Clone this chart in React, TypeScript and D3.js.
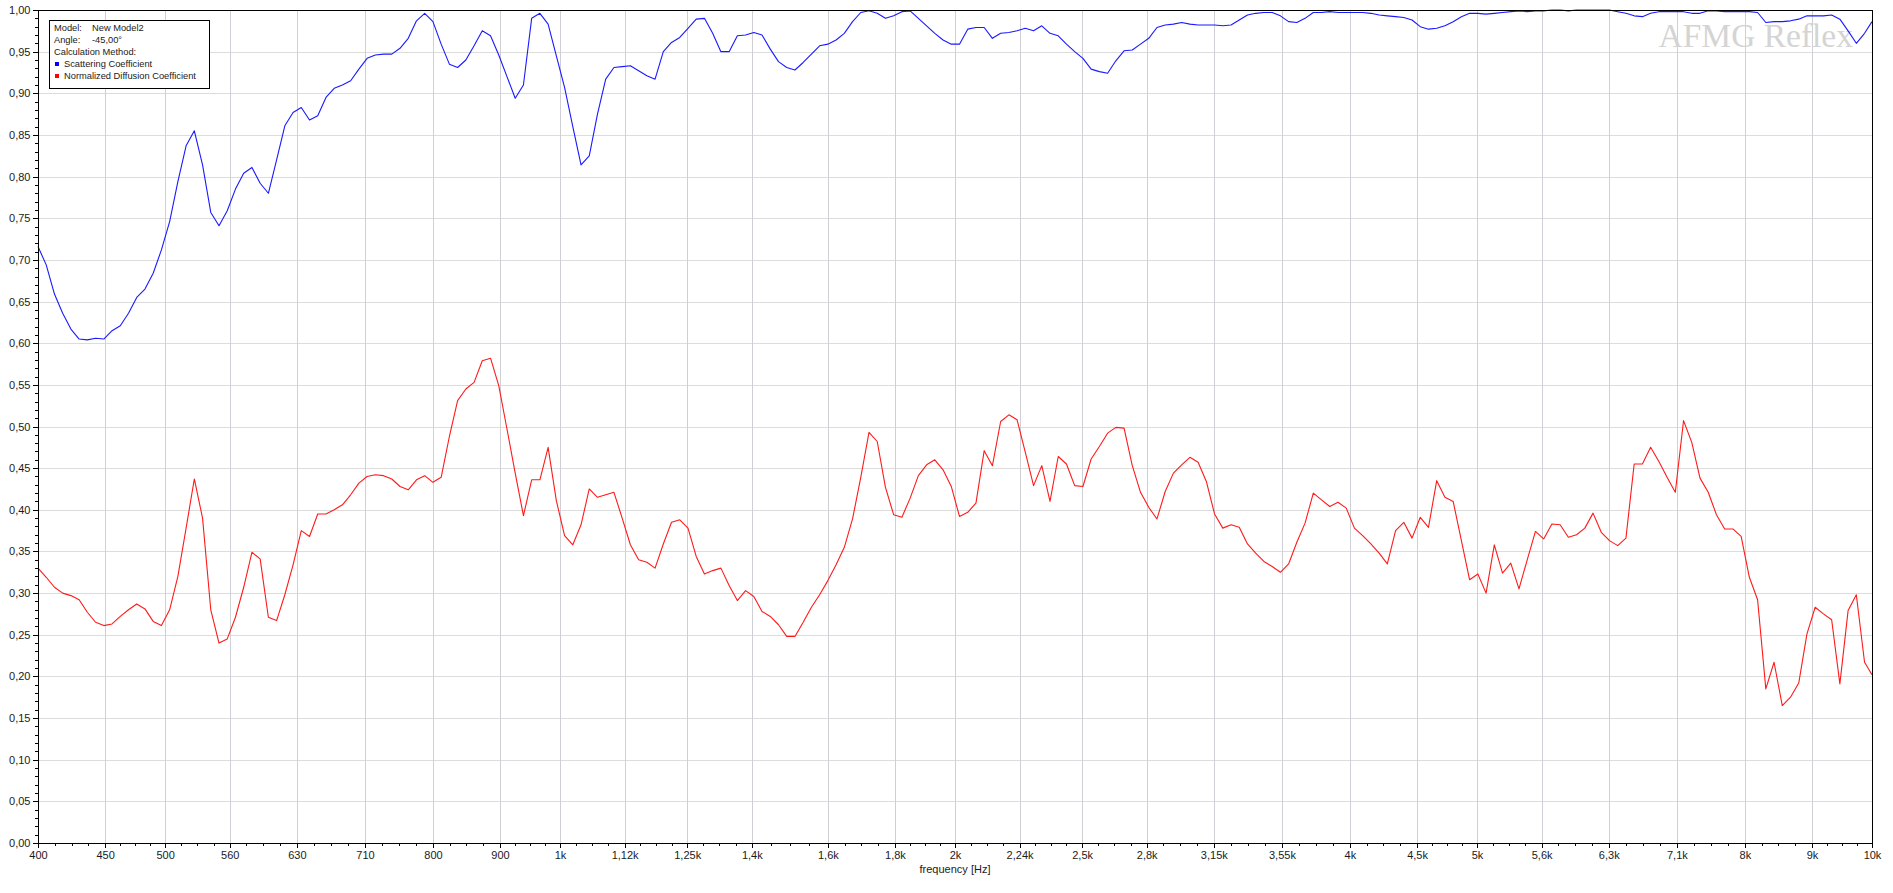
import React, { useEffect, useRef } from 'react';
import * as d3 from 'd3';

/* ---------- Data ---------- */
const freqTickValues = [
  400, 450, 500, 560, 630, 710, 800, 900, 1000, 1120, 1250, 1400, 1600, 1800, 2000,
  2240, 2500, 2800, 3150, 3550, 4000, 4500, 5000, 5600, 6300, 7100, 8000, 9000, 10000,
];
const freqTickLabels = [
  '400', '450', '500', '560', '630', '710', '800', '900', '1k', '1,12k', '1,25k', '1,4k',
  '1,6k', '1,8k', '2k', '2,24k', '2,5k', '2,8k', '3,15k', '3,55k', '4k', '4,5k', '5k',
  '5,6k', '6,3k', '7,1k', '8k', '9k', '10k',
];
const yTickValues = [
  0, 0.05, 0.1, 0.15, 0.2, 0.25, 0.3, 0.35, 0.4, 0.45, 0.5, 0.55, 0.6, 0.65, 0.7, 0.75,
  0.8, 0.85, 0.9, 0.95, 1,
];

// Scattering Coefficient
const scattering = [
  0.716, 0.694, 0.659, 0.636, 0.617, 0.605, 0.604, 0.606, 0.605, 0.615,
  0.621, 0.636, 0.655, 0.665, 0.684, 0.712, 0.746, 0.794, 0.837, 0.855,
  0.814, 0.757, 0.741, 0.759, 0.785, 0.804, 0.811, 0.792, 0.780, 0.820,
  0.861, 0.877, 0.883, 0.868, 0.873, 0.895, 0.906,
  0.910, 0.915, 0.929, 0.942, 0.946, 0.947, 0.947, 0.954, 0.966, 0.987,
  0.996, 0.986, 0.959, 0.935, 0.931, 0.940, 0.957, 0.975, 0.969, 0.946,
  0.920, 0.894, 0.910, 0.990, 0.996, 0.983, 0.945, 0.907, 0.860, 0.814,
  0.825, 0.875, 0.917, 0.931, 0.932, 0.933, 0.927,
  0.921, 0.917, 0.950, 0.961, 0.967, 0.978, 0.989, 0.990, 0.972, 0.950,
  0.950, 0.969, 0.970, 0.973, 0.970, 0.953, 0.938, 0.931, 0.928, 0.937,
  0.947, 0.957, 0.959, 0.964, 0.972, 0.986, 0.997, 0.999, 0.996, 0.990,
  0.993, 0.998, 0.999, 0.990, 0.981, 0.972, 0.964,
  0.959, 0.959, 0.977, 0.979, 0.979, 0.966, 0.972, 0.973, 0.975, 0.978,
  0.975, 0.981, 0.972, 0.969, 0.959, 0.950, 0.942, 0.929, 0.926, 0.924,
  0.939, 0.951, 0.952, 0.959, 0.966, 0.979, 0.982, 0.983, 0.985, 0.983,
  0.982, 0.982, 0.982, 0.981, 0.982, 0.988, 0.994,
  0.996, 0.997, 0.997, 0.993, 0.986, 0.985, 0.990, 0.997, 0.997, 0.998,
  0.997, 0.997, 0.997, 0.997, 0.996, 0.994, 0.993, 0.992, 0.991, 0.988,
  0.980, 0.977, 0.978, 0.981, 0.986, 0.992, 0.996, 0.996, 0.995, 0.996,
  0.997, 0.998, 0.999, 0.998, 0.999, 0.999, 1.000,
  1.000, 0.999, 1.000, 1.000, 1.000, 1.000, 1.000, 0.998, 0.996, 0.993,
  0.992, 0.996, 0.998, 0.998, 0.998, 0.998, 0.996, 0.996, 0.999, 0.999,
  0.998, 0.998, 0.998, 0.998, 0.997, 0.985, 0.986, 0.986, 0.987, 0.989,
  0.993, 0.993, 0.993, 0.994, 0.989, 0.975, 0.960, 0.972,
  0.986,
];

// Normalized Diffusion Coefficient
const diffusion = [
  0.330, 0.319, 0.307, 0.300, 0.297, 0.292, 0.277, 0.265, 0.261, 0.263,
  0.272, 0.280, 0.287, 0.281, 0.266, 0.261, 0.280, 0.320, 0.378, 0.437,
  0.390, 0.280, 0.240, 0.245, 0.271, 0.307, 0.349, 0.341, 0.271, 0.267,
  0.298, 0.334, 0.375, 0.368, 0.395, 0.395, 0.400,
  0.406, 0.418, 0.432, 0.440, 0.442, 0.441, 0.437, 0.428, 0.424, 0.436,
  0.441, 0.433, 0.439, 0.488, 0.531, 0.545, 0.553, 0.579, 0.582, 0.549,
  0.497, 0.444, 0.393, 0.436, 0.436, 0.475, 0.411, 0.369, 0.358, 0.382,
  0.425, 0.415, 0.418, 0.421, 0.390, 0.358, 0.340,
  0.337, 0.330, 0.359, 0.385, 0.388, 0.378, 0.344, 0.323, 0.327, 0.330,
  0.309, 0.291, 0.303, 0.296, 0.278, 0.272, 0.262, 0.248, 0.248, 0.265,
  0.283, 0.298, 0.315, 0.334, 0.355, 0.389, 0.439, 0.493, 0.482, 0.427,
  0.394, 0.391, 0.414, 0.441, 0.454, 0.460, 0.448,
  0.428, 0.392, 0.397, 0.408, 0.471, 0.453, 0.506, 0.514, 0.508, 0.469,
  0.429, 0.453, 0.410, 0.464, 0.455, 0.429, 0.428, 0.461, 0.476, 0.492,
  0.499, 0.498, 0.453, 0.421, 0.403, 0.389, 0.422, 0.444, 0.454, 0.463,
  0.457, 0.434, 0.395, 0.378, 0.382, 0.379, 0.359,
  0.348, 0.338, 0.332, 0.325, 0.335, 0.361, 0.384, 0.420, 0.412, 0.404,
  0.409, 0.402, 0.378, 0.369, 0.359, 0.348, 0.335, 0.375, 0.385, 0.366,
  0.391, 0.379, 0.435, 0.415, 0.410, 0.363, 0.316, 0.323, 0.300, 0.358,
  0.324, 0.336, 0.305, 0.340, 0.374, 0.365, 0.383,
  0.382, 0.367, 0.370, 0.378, 0.396, 0.373, 0.363, 0.357, 0.366, 0.455,
  0.455, 0.475, 0.458, 0.439, 0.421, 0.507, 0.481, 0.438, 0.421, 0.394,
  0.377, 0.377, 0.368, 0.319, 0.292, 0.185, 0.217, 0.165, 0.175, 0.192,
  0.251, 0.283, 0.275, 0.268, 0.191, 0.279, 0.298, 0.217,
  0.202,
];

// analysis bands: 1/48 octave steps from 400 Hz, last value at 10 kHz
const frequencies = [...d3.range(scattering.length - 1).map(k => 400 * Math.pow(2, k / 48)), 10000];

type Pt = { f: number; v: number };

const App: React.FC = () => {
  const svgRef = useRef<SVGSVGElement>(null);

  useEffect(() => {
    document.body.style.margin = '0';
    const svgEl = svgRef.current;
    if (!svgEl) return;
    const svg = d3.select(svgEl);
    svg.selectAll('*').remove();

    /* ---------- Layout ---------- */
    const W = 1893;
    const H = 893;
    const left = 38;
    const right = 1872;
    const top = 10;
    const bottom = 843;
    const font = '"Liberation Sans", Arial, sans-serif';
    const textColor = '#1a1a1a';

    const x = d3.scaleLog().domain([400, 10000]).range([left, right]);
    const y = d3.scaleLinear().domain([0, 1]).range([bottom, top]);
    const px = (v: number) => Math.round(v) + 0.5;

    svg.append('rect').attr('width', W).attr('height', H).attr('fill', '#fff');

    /* ---------- Grid ---------- */
    const grid = svg.append('g').attr('shape-rendering', 'crispEdges');
    grid
      .selectAll('line.hgrid')
      .data(yTickValues.slice(1, -1))
      .enter()
      .append('line')
      .attr('x1', left)
      .attr('x2', right)
      .attr('y1', d => px(y(d)))
      .attr('y2', d => px(y(d)))
      .attr('stroke', '#dcdcdc');
    grid
      .selectAll('line.vgrid')
      .data(freqTickValues.slice(1, -1))
      .enter()
      .append('line')
      .attr('y1', top)
      .attr('y2', bottom)
      .attr('x1', d => px(x(d)))
      .attr('x2', d => px(x(d)))
      .attr('stroke', '#cfcfd6');

    /* ---------- Watermark ---------- */
    svg
      .append('text')
      .attr('x', 1853)
      .attr('y', 47)
      .attr('text-anchor', 'end')
      .style('font-family', '"Liberation Serif", "Times New Roman", serif')
      .style('font-size', '33.5px')
      .attr('fill', '#d4d4d4')
      .text('AFMG Reflex');

    /* ---------- Curves ---------- */
    const line = d3
      .line<Pt>()
      .x(d => x(d.f))
      .y(d => y(d.v));
    const series = [
      { values: scattering, color: '#1a1aff' },
      { values: diffusion, color: '#ff1a1a' },
    ];
    series.forEach(s => {
      const pts: Pt[] = s.values.map((v, i) => ({ f: frequencies[i], v }));
      svg
        .append('path')
        .datum(pts)
        .attr('fill', 'none')
        .attr('stroke', s.color)
        .attr('stroke-width', 1.1)
        .attr('stroke-linejoin', 'round')
        .attr('d', line);
    });

    /* ---------- Frame ---------- */
    svg
      .append('rect')
      .attr('x', left + 0.5)
      .attr('y', top + 0.5)
      .attr('width', right - left)
      .attr('height', bottom - top)
      .attr('fill', 'none')
      .attr('stroke', '#000')
      .attr('shape-rendering', 'crispEdges');

    /* ---------- Y axis ---------- */
    const yAxis = d3
      .axisLeft(y)
      .tickValues(yTickValues)
      .tickSize(6)
      .tickPadding(2)
      .tickFormat(d => (d as number).toFixed(2).replace('.', ','));
    const yg = svg
      .append('g')
      .attr('transform', `translate(${left + 0.5},0)`)
      .attr('shape-rendering', 'crispEdges')
      .call(yAxis);
    yg.select('.domain').remove();
    yg.selectAll('line').attr('stroke', '#000');
    yg.selectAll('text')
      .style('font-family', font)
      .style('font-size', '11px')
      .attr('fill', textColor);

    const yMinor = d3.range(0, 101).filter(i => i % 5 !== 0).map(i => i / 100);
    svg
      .append('g')
      .attr('shape-rendering', 'crispEdges')
      .selectAll('line')
      .data(yMinor)
      .enter()
      .append('line')
      .attr('x1', left - 3)
      .attr('x2', left)
      .attr('y1', d => px(y(d)))
      .attr('y2', d => px(y(d)))
      .attr('stroke', '#000');

    /* ---------- X axis ---------- */
    const xAxis = d3
      .axisBottom(x)
      .tickValues(freqTickValues)
      .tickSize(4)
      .tickPadding(4)
      .tickFormat((_d, i) => freqTickLabels[i]);
    const xg = svg
      .append('g')
      .attr('transform', `translate(0,${bottom + 0.5})`)
      .attr('shape-rendering', 'crispEdges')
      .call(xAxis);
    xg.select('.domain').remove();
    xg.selectAll('line').attr('stroke', '#000');
    xg.selectAll('text')
      .style('font-family', font)
      .style('font-size', '11px')
      .attr('fill', textColor);

    // minor ticks at 1/24 octave between labelled 1/6 octave ticks
    const xMinor: number[] = [];
    for (let i = 0; i < freqTickValues.length - 1; i++) {
      const a = freqTickValues[i];
      const b = freqTickValues[i + 1];
      for (let j = 1; j < 4; j++) xMinor.push(a * Math.pow(b / a, j / 4));
    }
    svg
      .append('g')
      .attr('shape-rendering', 'crispEdges')
      .selectAll('line')
      .data(xMinor)
      .enter()
      .append('line')
      .attr('x1', d => px(x(d)))
      .attr('x2', d => px(x(d)))
      .attr('y1', bottom)
      .attr('y2', bottom + 3)
      .attr('stroke', '#000');

    svg
      .append('text')
      .attr('x', (left + right) / 2)
      .attr('y', 873)
      .attr('text-anchor', 'middle')
      .style('font-family', font)
      .style('font-size', '11px')
      .attr('fill', textColor)
      .text('frequency [Hz]');

    /* ---------- Legend ---------- */
    const lg = svg.append('g');
    lg.append('rect')
      .attr('x', 49.5)
      .attr('y', 20.5)
      .attr('width', 160)
      .attr('height', 68)
      .attr('fill', '#fff')
      .attr('stroke', '#000')
      .attr('shape-rendering', 'crispEdges');
    const legendFont = (sel: d3.Selection<SVGTextElement, unknown, null, undefined>) =>
      sel.style('font-family', font).style('font-size', '9.3px').attr('fill', textColor);
    lg.append('text').attr('x', 54).attr('y', 31).call(legendFont).text('Model:');
    lg.append('text').attr('x', 92).attr('y', 31).call(legendFont).text('New Model2');
    lg.append('text').attr('x', 54).attr('y', 43).call(legendFont).text('Angle:');
    lg.append('text').attr('x', 92).attr('y', 43).call(legendFont).text('-45,00°');
    lg.append('text').attr('x', 54).attr('y', 55).call(legendFont).text('Calculation Method:');
    const legendItems = [
      { label: 'Scattering Coefficient', color: '#0000ff', y: 67 },
      { label: 'Normalized Diffusion Coefficient', color: '#ff0000', y: 79 },
    ];
    legendItems.forEach(it => {
      lg.append('rect')
        .attr('x', 55)
        .attr('y', it.y - 5)
        .attr('width', 4)
        .attr('height', 4)
        .attr('fill', it.color)
        .attr('shape-rendering', 'crispEdges');
      lg.append('text').attr('x', 64).attr('y', it.y).call(legendFont).text(it.label);
    });
  }, []);

  return (
    <svg
      ref={svgRef}
      width={1893}
      height={893}
      style={{ position: 'absolute', left: 0, top: 0, display: 'block' }}
    />
  );
};

export default App;
